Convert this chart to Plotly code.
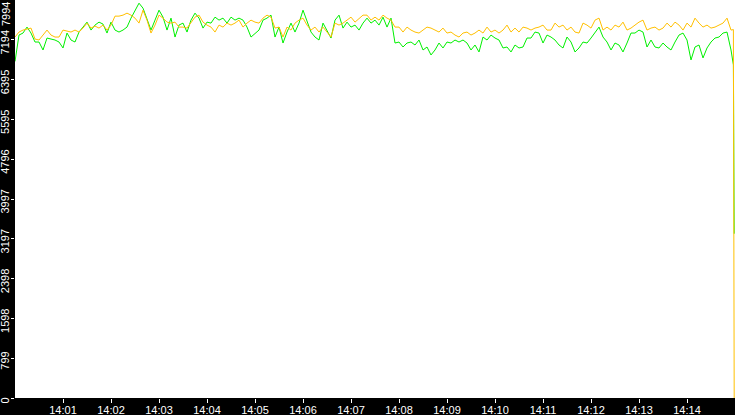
import pandas as pd
import plotly.graph_objects as go

# samples every 5 s from 14:00:00, plus the last two readings before the feed drops
times = list(pd.date_range("2021-03-01 14:00:00", periods=180, freq="5s")) + [
    pd.Timestamp("2021-03-01 14:14:58"), pd.Timestamp("2021-03-01 14:14:59")]

green_vals = [
    6760, 7290, 7330, 7450, 7330, 7150, 7150, 6990, 7230, 7210, 7190, 7150, 7030,
    7330, 7190, 7150, 7350, 7450, 7550, 7390, 7490, 7550, 7510, 7330, 7550, 7390,
    7350, 7390, 7450, 7630, 7790, 7930, 7830, 7630, 7390, 7590, 7790, 7650, 7390,
    7630, 7250, 7490, 7530, 7350, 7590, 7730, 7630, 7430, 7550, 7530, 7650, 7590,
    7630, 7530, 7650, 7590, 7630, 7590, 7450, 7250, 7330, 7390, 7590, 7630, 7690,
    7250, 7450, 7130, 7350, 7530, 7350, 7530, 7790, 7590, 7350, 7250, 7190, 7530,
    7390, 7230, 7590, 7690, 7430, 7550, 7450, 7490, 7390, 7530, 7630, 7530, 7590,
    7490, 7650, 7450, 7630, 7130, 7150, 7050, 7130, 7150, 7090, 7190, 6990, 7050,
    6890, 6990, 7130, 7030, 7150, 7130, 7190, 7150, 7190, 7130, 6990, 7090, 6950,
    7250, 7190, 7290, 7230, 7190, 7030, 7050, 6950, 7090, 7030, 7050, 7230, 7230,
    7350, 7330, 7130, 7290, 7250, 7190, 7090, 7030, 7250, 7150, 6950, 7030, 7150,
    7130, 7230, 7350, 7450, 7250, 7150, 6990, 7130, 7090, 6950, 7130, 7330,
    7330, 7390, 7350, 7050, 7190, 7050, 7030, 7130, 7050, 6990, 7150, 7290, 7330,
    7190, 6790, 7050, 7090, 6830, 7030, 7150, 7230, 7250, 7330, 7350, 6990,
    6690, 3300]

orange_vals = [
    7250, 7350, 7390, 7410, 7430, 7210, 7190, 7290, 7390, 7290, 7250, 7250, 7390,
    7370, 7350, 7390, 7350, 7430, 7530, 7430, 7470, 7430, 7490, 7390, 7490, 7670,
    7670, 7690, 7730, 7690, 7630, 7530, 7790, 7590, 7330, 7490, 7690, 7630, 7550,
    7530, 7550, 7450, 7450, 7430, 7550, 7650, 7690, 7550, 7490, 7450, 7350, 7490,
    7450, 7530, 7490, 7530, 7590, 7450, 7530, 7590, 7550, 7530, 7630, 7690, 7650,
    7430, 7450, 7250, 7450, 7390, 7530, 7590, 7630, 7490, 7390, 7450, 7350, 7450,
    7350, 7250, 7530, 7490, 7530, 7590, 7650, 7550, 7630, 7690, 7690, 7590, 7650,
    7590, 7690, 7630, 7590, 7450, 7450, 7350, 7450, 7390, 7350, 7330, 7390, 7450,
    7430, 7390, 7350, 7430, 7330, 7350, 7290, 7250, 7330, 7350, 7290, 7330, 7390,
    7330, 7450, 7350, 7390, 7330, 7390, 7490, 7350, 7430, 7350, 7450, 7430, 7390,
    7430, 7450, 7490, 7390, 7390, 7530, 7450, 7490, 7390, 7450, 7350, 7330, 7530,
    7490, 7430, 7590, 7630, 7390, 7450, 7390, 7490, 7450, 7550, 7390, 7430,
    7490, 7550, 7590, 7390, 7430, 7450, 7390, 7430, 7530, 7450, 7550, 7490, 7390,
    7530, 7450, 7630, 7530, 7450, 7490, 7430, 7450, 7490, 7530, 7630, 7390,
    7400, 0]

y_max = 7994
ytick_vals = [0, 799.4, 1598.8, 2398.2, 3197.6, 3997, 4796.4, 5595.8, 6395.2, 7194.6]
ytick_text = ["0", "799", "1598", "2398", "3197", "3997", "4796", "5595", "6395", "7194"]
xtick_vals = list(pd.date_range("2021-03-01 14:01:00", periods=14, freq="min"))

fig = go.Figure()
fig.add_trace(go.Scatter(x=times, y=green_vals, mode="lines",
                         line=dict(color="#00f000", width=1)))
fig.add_trace(go.Scatter(x=times, y=orange_vals, mode="lines",
                         line=dict(color="#ffc000", width=1)))

fig.update_layout(
    width=735, height=415,
    margin=dict(l=15, r=0, t=0, b=17, pad=0),
    paper_bgcolor="black", plot_bgcolor="white",
    showlegend=False,
    font=dict(family="Liberation Sans", size=11, color="white"),
)
fig.update_xaxes(
    range=["2021-03-01 14:00:00", "2021-03-01 14:15:00"],
    tickvals=xtick_vals, tickformat="%H:%M",
    ticks="outside", ticklen=4, tickcolor="white",
    ticklabelstandoff=-2,
    showgrid=False, zeroline=False, showline=False, automargin=False,
)
fig.update_yaxes(
    range=[0, y_max],
    tickvals=ytick_vals, ticktext=ytick_text, tickangle=-90,
    ticks="outside", ticklen=3, tickcolor="white",
    ticklabelstandoff=-2, ticklabelshift=4,
    showgrid=False, zeroline=False, showline=False, automargin=False,
)
# top label sits at the very edge, so keep it inside the canvas
fig.add_annotation(text=str(y_max), textangle=-90, showarrow=False,
                   xref="paper", x=0, xanchor="right", xshift=-2,
                   yref="paper", y=1, yanchor="top", yshift=-1, borderpad=0,
                   font=dict(family="Liberation Sans", size=11, color="white"))

# drop the default page margin so the chart fills the window
fig.write_html("out.html", config={"displayModeBar": False},
               post_script="document.body.style.margin='0';"
                           "document.body.style.background='black';")
